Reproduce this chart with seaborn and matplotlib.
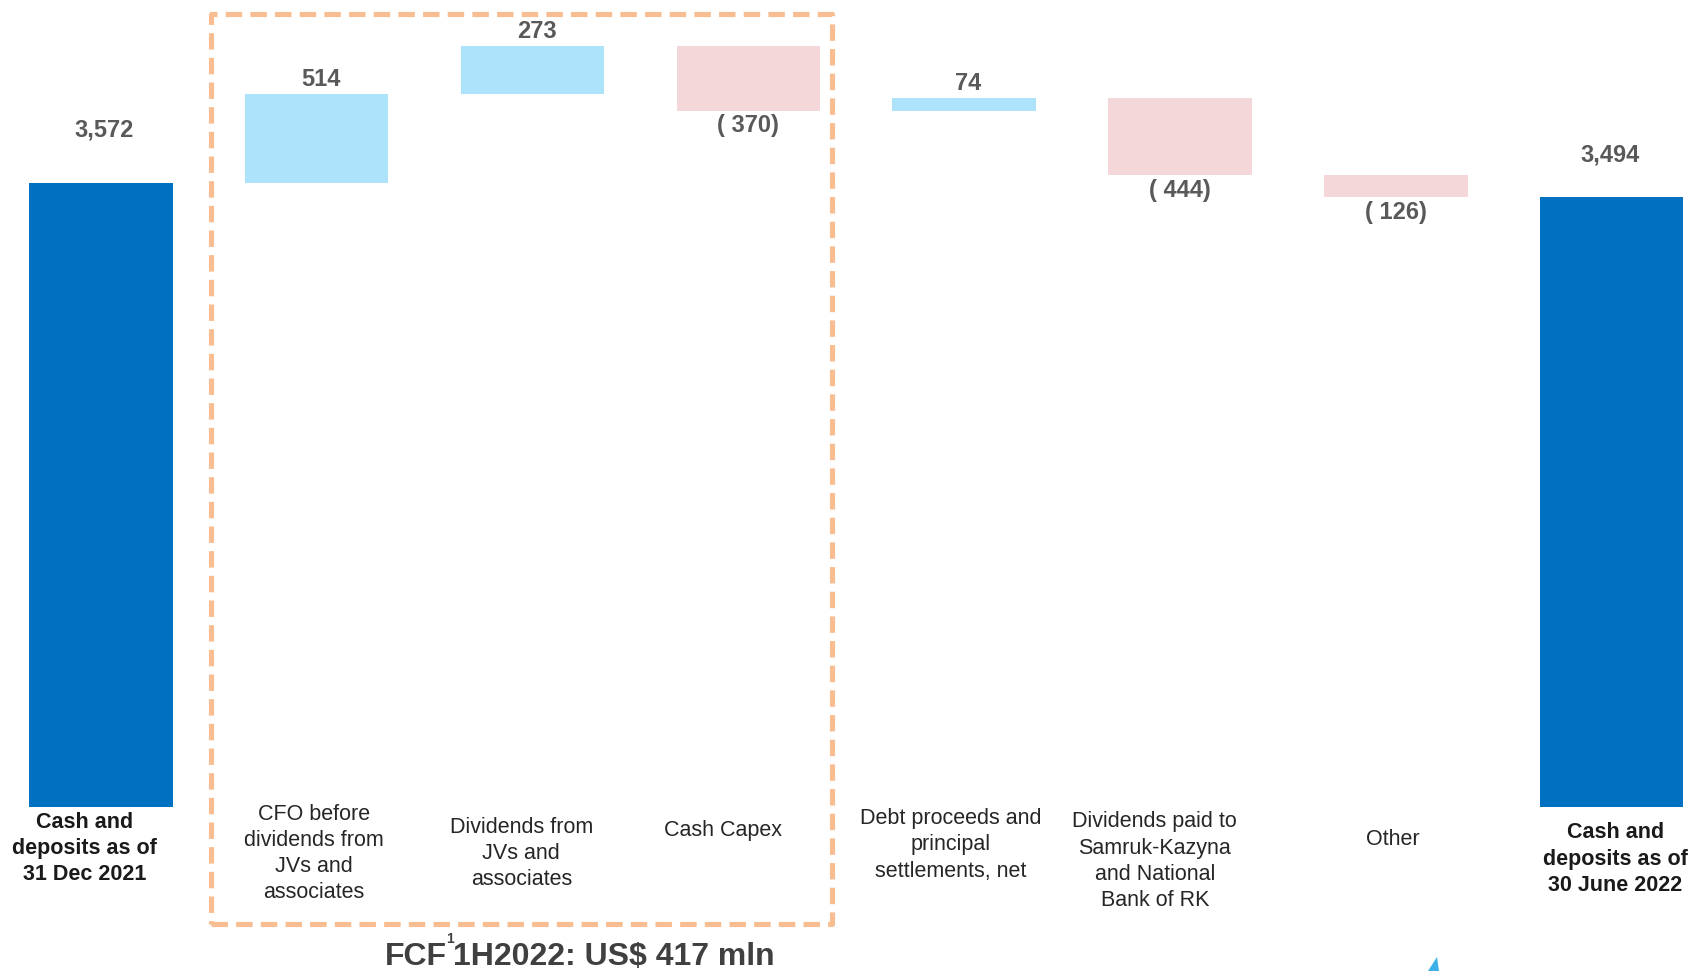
import matplotlib
matplotlib.use("Agg")
import matplotlib.pyplot as plt
import seaborn as sns
import numpy as np
import pandas as pd
from matplotlib.patches import Rectangle, Polygon

# ---- data -------------------------------------------------------------
categories = [
    "Cash and\ndeposits as of\n31 Dec 2021",
    "CFO before\ndividends from\nJVs and\nassociates",
    "Dividends from\nJVs and\nassociates",
    "Cash Capex",
    "Debt proceeds and\nprincipal\nsettlements, net",
    "Dividends paid to\nSamruk-Kazyna\nand National\nBank of RK",
    "Other",
    "Cash and\ndeposits as of\n30 June 2022",
]
opening_balance = 3572
movements = [514, 273, -370, 74, -444, -126]
closing_balance = 3494
fcf_parts = ["FCF", "1", "1H2022: US$ 417 mln"]

# ---- layout (label placement, data units) -----------------------------
cat_label_x = [-0.077, 0.987, 1.948, 2.883, 3.938, 4.883, 5.987, 7.018]
cat_label_y = [-236, -267, -267, -137, -217, -310, -186, -298]

colors = {"total": "#0070C0", "up": "#AEE3FC", "down": "#F4D7D8"}

# ---- waterfall geometry ----------------------------------------------
running = opening_balance + np.cumsum(movements)
previous = np.concatenate([[opening_balance], running[:-1]])
values = [opening_balance] + movements + [closing_balance]
tops = [opening_balance] + list(np.maximum(previous, running)) + [closing_balance]
bottoms = [0] + list(np.minimum(previous, running)) + [0]
kinds = ["total"] + ["up" if m > 0 else "down" for m in movements] + ["total"]

df = pd.DataFrame({"cat": categories, "height": np.array(tops) - np.array(bottoms),
                   "bottom": bottoms, "top": tops, "kind": kinds, "value": values})

# ---- figure -----------------------------------------------------------
sns.set_theme(style="white")
plt.rcParams["font.family"] = ["Liberation Sans", "DejaVu Sans"]

fig = plt.figure(figsize=(16.92, 9.71), dpi=100)
ax = fig.add_axes([0, 0, 1, 1])

for kind, sub in df.groupby("kind", sort=False):
    sns.barplot(data=sub, x="cat", y="height", order=categories, color=colors[kind],
                saturation=1, width=0.665, bottom=sub["bottom"].to_numpy(),
                linewidth=0, errorbar=None, ax=ax)

ax.set_xlim(-0.4676, 7.3726)
ax.set_ylim(-939, 4622)
ax.axis("off")

# value labels
val_color = "#595959"
for i, row in df.iterrows():
    v = row["value"]
    if row["kind"] == "total":
        off = (3, 53) if i == 0 else (-2, 42)
        ax.annotate(f"{v:,}", (i, row["top"]), xytext=off, textcoords="offset pixels",
                    ha="center", va="center", fontsize=17, fontweight="bold", color=val_color)
    elif v > 0:
        ax.annotate(f"{v:,}", (i, row["top"]), xytext=(4, 14), textcoords="offset pixels",
                    ha="center", va="center", fontsize=17, fontweight="bold", color=val_color)
    else:
        ax.annotate(f"( {abs(v)})", (i, row["bottom"]), xytext=(0, -15),
                    textcoords="offset pixels", ha="center", va="center",
                    fontsize=17, fontweight="bold", color=val_color)

# category labels
for i, (lab, lx, ly) in enumerate(zip(categories, cat_label_x, cat_label_y)):
    bold = df.loc[i, "kind"] == "total"
    ax.text(lx, ly, lab, ha="center", va="center", multialignment="center",
            fontsize=15.5, linespacing=1.32,
            fontweight="bold" if bold else "normal",
            color="#1a1a1a" if bold else "#262626")

# free cash flow bracket
ax.add_patch(Rectangle((0.5078, -670.7), 3.3878 - 0.5078, 4541.8 + 670.7, fill=False,
                       edgecolor="#F8BE91", linewidth=3.7, linestyle=(0, (3.2, 1.6)),
                       joinstyle="round", capstyle="butt", zorder=1))

# caption under the bracket: "FCF" + superscript footnote mark + period total
cap_kw = dict(va="baseline", ha="left", fontweight="bold", color="#404040")
t_main1 = ax.text(0, 0, fcf_parts[0], fontsize=23, **cap_kw)
t_sup = ax.text(0, 0, fcf_parts[1], fontsize=10, **cap_kw)
t_main2 = ax.text(0, 0, fcf_parts[2], fontsize=23, **cap_kw)
fig.canvas.draw()
rend = fig.canvas.get_renderer()
w1 = t_main1.get_window_extent(rend).width
ws = t_sup.get_window_extent(rend).width
w2 = t_main2.get_window_extent(rend).width
gap = -1
total = w1 + gap + ws + gap + w2
center_px, baseline_px = 580, 971 - 965  # display coords (origin bottom-left)
x0 = center_px - total / 2
inv = ax.transData.inverted()
t_main1.set_position(inv.transform((x0, baseline_px)))
t_sup.set_position(inv.transform((x0 + w1 + gap, baseline_px + 22)))
t_main2.set_position(inv.transform((x0 + w1 + gap + ws + gap, baseline_px)))

# corner of the logo peeking in at the bottom edge
fig.patches.append(Polygon([(1428 / 1692, 0), (1437 / 1692, 14 / 971), (1439 / 1692, 0)],
                           closed=True, transform=fig.transFigure, facecolor="#3DB0EA",
                           edgecolor="none"))

fig.savefig("out.png", dpi=100, facecolor="white")
